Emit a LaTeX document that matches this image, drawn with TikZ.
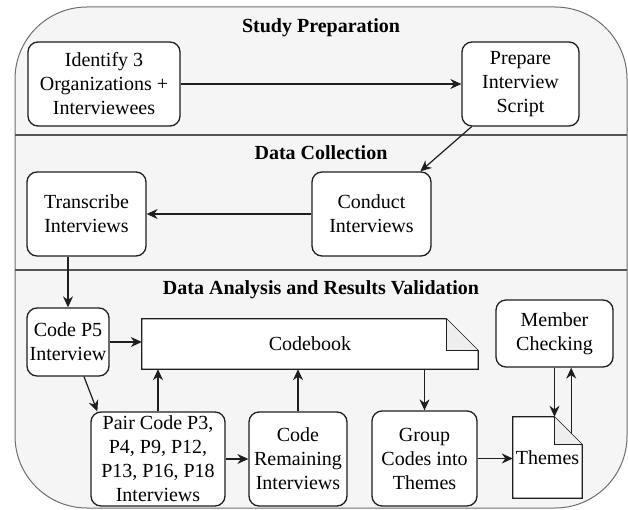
\documentclass[tikz,border=0pt]{standalone}
\usepackage{fontspec}
\setmainfont{Liberation Serif}
\usepackage{tikz}
\usetikzlibrary{arrows.meta, positioning, calc, backgrounds}
\definecolor{lanefill}{RGB}{245,245,245}
\definecolor{laneline}{RGB}{110,110,110}
\definecolor{sepgray}{RGB}{85,85,85}
\definecolor{boxline}{RGB}{30,30,30}
\definecolor{foldfill}{RGB}{238,238,238}
\tikzset{
  procbox/.style={rectangle, draw=boxline, fill=white, align=center,
    inner sep=2pt, rounded corners=10pt, line width=1.3pt,
    font=\fontsize{20}{24}\selectfont},
  docbox/.style={rectangle, align=center, inner sep=2pt,
    font=\fontsize{20}{24}\selectfont},
  lanetitle/.style={anchor=base, font=\fontsize{20}{24}\selectfont\bfseries},
  docline/.style={draw=boxline, line width=1.3pt, line join=miter},
  sepline/.style={draw=sepgray, line width=1.5pt},
  arrow/.style={-{Stealth[length=11pt,width=10pt]}, line width=1.2pt, color=boxline}
}
\newcommand{\drawdoc}[2]{%
  \draw[docline, fill=white] (#1.south west) -- (#1.north west)
    -- ([xshift=-#2]#1.north east) -- ([yshift=-#2]#1.north east)
    -- (#1.south east) -- cycle;
  \draw[docline, fill=foldfill] ([xshift=-#2]#1.north east)
    -- ([xshift=-#2,yshift=-#2]#1.north east) -- ([yshift=-#2]#1.north east);
}

\begin{document}
\begin{tikzpicture}[x=1pt, y=-1pt]
  \useasboundingbox (0,0) rectangle (628,510);
  \begin{scope}[on background layer]
    \draw[draw=laneline, fill=lanefill, line width=1pt, rounded corners=72pt]
      (15,7) rectangle (627,508);
    \draw[sepline] (15,135) -- (627,135);
    \draw[sepline] (15,270) -- (627,270);
  \end{scope}

  \node[lanetitle] (title1) at (321,33) {Study Preparation};
  \node[lanetitle] (title2) at (321,160) {Data Collection};
  \node[lanetitle] (title3) at (321,294) {Data Analysis and Results Validation};

  \node[procbox, minimum width=152pt, minimum height=84pt] (ident) at (104,84)
    {Identify 3\\Organizations +\\Interviewees};
  \node[procbox, minimum width=117pt, minimum height=84pt] (prep) at (520.5,84)
    {Prepare\\Interview\\Script};
  \node[procbox, minimum width=119pt, minimum height=84pt] (conduct) at (371.5,214)
    {Conduct\\Interviews};
  \node[procbox, minimum width=119pt, minimum height=84pt] (transc) at (86.5,214)
    {Transcribe\\Interviews};
  \node[procbox, minimum width=82pt, minimum height=68pt] (codep5) at (68,342)
    {Code P5\\Interview};
  \node[docbox, minimum width=336pt, minimum height=50pt] (codebook) at (310,344)
    {Codebook};
  \node[procbox, minimum width=117pt, minimum height=67pt] (member) at (554.5,333.5)
    {Member\\Checking};
  \node[procbox, minimum width=134pt, minimum height=94pt] (paircode) at (158,459)
    {Pair Code P3,\\P4, P9, P12,\\P13, P16, P18\\Interviews};
  \node[procbox, minimum width=98pt, minimum height=94pt] (remain) at (298,459)
    {Code\\Remaining\\Interviews};
  \node[procbox, minimum width=105pt, minimum height=95pt] (group) at (424.5,458.5)
    {Group\\Codes into\\Themes};
  \node[docbox, minimum width=69pt, minimum height=81pt] (themes) at (547.5,457.5)
    {Themes};
  \begin{scope}[on background layer]
    \drawdoc{codebook}{32pt}
    \drawdoc{themes}{28pt}
  \end{scope}
  \coordinate (themesfold) at ([xshift=-11pt,yshift=-17pt]themes.north east);

  \draw[arrow] (ident) -- (prep);
  \draw[arrow] (prep) -- (conduct);
  \draw[arrow] (conduct) -- (transc);
  \draw[arrow] (transc.south -| codep5) -- (codep5.north);
  \draw[arrow] (codep5.east) -- (codep5.east -| codebook.west);
  \draw[arrow] ([xshift=16pt]codep5.south) -- ([xshift=7pt]paircode.north west);
  \draw[arrow] (paircode.north) -- (paircode.north |- codebook.south);
  \draw[arrow] (paircode.east) -- (paircode.east -| remain.west);
  \draw[arrow] (remain.north) -- (remain.north |- codebook.south);
  \draw[arrow] (codebook.south -| group.north) -- (group.north);
  \draw[arrow] (group.east) -- (group.east -| themes.west);
  \draw[arrow] (member.south) -- (member.south |- themes.north);
  \draw[arrow] (themesfold) -- (themesfold |- member.south);
\end{tikzpicture}
\end{document}
